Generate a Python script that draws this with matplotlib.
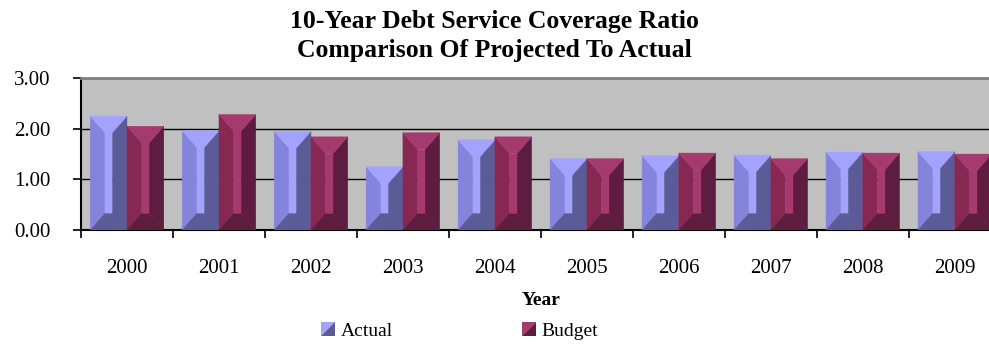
import matplotlib
import matplotlib.pyplot as plt
from matplotlib.patches import Polygon, Patch
from matplotlib.legend_handler import HandlerBase

matplotlib.use("Agg")

years = ["2000", "2001", "2002", "2003", "2004", "2005", "2006", "2007", "2008", "2009"]
actual = [2.25, 1.96, 1.95, 1.25, 1.78, 1.41, 1.47, 1.48, 1.54, 1.55]
budget = [2.05, 2.28, 1.84, 1.92, 1.84, 1.41, 1.52, 1.41, 1.52, 1.50]

# (light, mid, dark) shades for the bevelled bars
actual_shades = ("#a3a3ff", "#8484dc", "#5b5b98")
budget_shades = ("#a53a6e", "#862852", "#5e1c3e")

plt.rcParams["font.family"] = ["Liberation Serif", "DejaVu Serif"]

fig = plt.figure(figsize=(9.89, 3.47), dpi=100)
ax = fig.add_axes([0.0819, 0.337, 0.930, 0.438])
ax.set_facecolor("#c0c0c0")

bar_w = 0.4
dy = 0.33  # bevel height in data units


def bevel_bar(ax, x0, h, shades):
    light, mid, dark = shades
    x1 = x0 + bar_w
    dx = bar_w * 0.4
    b = min(dy, h / 2)
    faces = [
        ([(x0, 0), (x0 + dx, b), (x0 + dx, h - b), (x0, h)], mid),
        ([(x1, 0), (x1 - dx, b), (x1 - dx, h - b), (x1, h)], dark),
        ([(x0, 0), (x1, 0), (x1 - dx, b), (x0 + dx, b)], dark),
        ([(x0, h), (x1, h), (x1 - dx, h - b), (x0 + dx, h - b)], light),
        ([(x0 + dx, b), (x1 - dx, b), (x1 - dx, h - b), (x0 + dx, h - b)], light),
    ]
    for pts, c in faces:
        ax.add_patch(Polygon(pts, closed=True, facecolor=c, edgecolor=c, linewidth=0.3, zorder=3))


class BevelHandler(HandlerBase):
    def create_artists(self, legend, orig_handle, xdescent, ydescent, width, height, fontsize, trans):
        light, mid, dark = orig_handle.shades
        x0, y0 = -xdescent, -ydescent
        up = Polygon([(x0, y0), (x0, y0 + height), (x0 + width, y0 + height)],
                     closed=True, facecolor=light, edgecolor="none", transform=trans)
        down = Polygon([(x0, y0), (x0 + width, y0), (x0 + width, y0 + height)],
                       closed=True, facecolor=dark, edgecolor="none", transform=trans)
        return [up, down]


for i, (a, b) in enumerate(zip(actual, budget)):
    bevel_bar(ax, i - bar_w, a, actual_shades)
    bevel_bar(ax, i, b, budget_shades)

ax.set_xlim(-0.5, len(years) - 0.5)
ax.set_ylim(0, 3)
ax.set_yticks([0, 1, 2, 3])
ax.set_yticklabels(["0.00", "1.00", "2.00", "3.00"], fontsize=15)
ax.yaxis.grid(True, color="black", linewidth=1)
ax.set_axisbelow(True)

ax.set_xticks(range(len(years)))
ax.set_xticklabels(years, fontsize=15)
ax.set_xticks([i - 0.5 for i in range(len(years) + 1)], minor=True)
ax.tick_params(axis="x", which="major", length=0, pad=21)
ax.tick_params(axis="x", which="minor", length=6, width=1.2, direction="out")
ax.tick_params(axis="y", length=6, width=1.2, direction="out", pad=16)

for side in ["left", "bottom"]:
    ax.spines[side].set_linewidth(1.5)
    ax.spines[side].set_color("black")
ax.spines["top"].set_color("#808080")
ax.spines["top"].set_linewidth(2)
ax.spines["right"].set_visible(False)

ax.set_xlabel("Year", fontsize=14, fontweight="bold", labelpad=10)

fig.suptitle("10-Year Debt Service Coverage Ratio\nComparison Of Projected To Actual",
             fontsize=18.5, fontweight="bold", x=0.5, y=0.97, linespacing=1.3)

h_actual = Patch(label="Actual")
h_actual.shades = actual_shades
h_budget = Patch(label="Budget")
h_budget.shades = budget_shades
fig.legend(handles=[h_actual, h_budget], handler_map={Patch: BevelHandler()},
           loc="center left", bbox_to_anchor=(0.325, 0.046), ncol=2, borderpad=0,
           borderaxespad=0, frameon=False, fontsize=14, handlelength=0.72, handleheight=0.72,
           handletextpad=0.3, columnspacing=6.6)

fig.savefig("out.png", dpi=100)
